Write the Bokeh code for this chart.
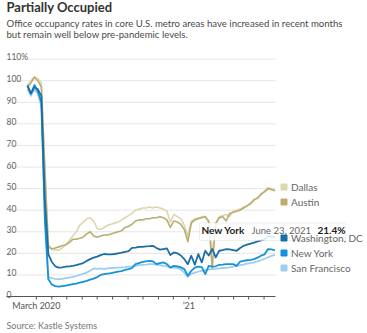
import pandas as pd
from bokeh.plotting import figure
from bokeh.models import (Range1d, Legend, LegendItem, Label,
                          BoxAnnotation, ColumnDataSource)
from bokeh.core.properties import value
from bokeh.embed import file_html
from bokeh.resources import INLINE

# ---------------- data (weekly, Wednesdays) ----------------
week_start = "2020-02-12"
n_weeks = 72

dallas = [98, 100, 102, 101, 99, 60, 24, 22, 21.5, 21.5,
          22.5, 24, 26, 28, 30, 33, 34.5, 36, 36.5, 35,
          31.5, 31, 32, 33, 33.5, 34, 34.5, 35.5, 36.5, 37.5,
          38.5, 40, 40.5, 41, 41, 41.5, 41, 41.5, 41, 40.5,
          39.5, 34.5, 38, 37, 36, 33, 28, 35, 36, 36.5,
          37, 37, 34, 21, 33, 37, 37.5, 38, 37, 39.5,
          40, 40.5, 41.5, 42, 43.5, 44.5, 46, 47, 49, 50.5,
          50, 49.5]
austin = [97, 99, 101.5, 100, 97, 58, 23, 22, 22.5, 23,
          23.5, 24, 25, 26.5, 26.5, 27, 27.5, 29, 30, 28,
          27.5, 28, 28.5, 28.5, 29, 29.5, 30, 30.5, 32, 32.5,
          33.5, 35, 35.5, 35.5, 36, 36, 36.5, 36.5, 37, 36.5,
          35.5, 32, 35, 34.5, 33.5, 31, 25.5, 34, 35.5, 36,
          36.5, 37, 35, 13, 34, 36.5, 37, 35, 38.5, 39,
          39.5, 40, 41, 42, 43, 45, 45.5, 47.5, 48.5, 50,
          49.5, 49]
washington = [97.5, 94, 97, 96, 93, 45, 19.5, 16, 14, 13.4,
              13.5, 13.8, 14, 14.2, 14.5, 15, 15.5, 16.5, 17.3, 18,
              18.5, 19.2, 19.7, 19.5, 19.5, 19.7, 20, 20.3, 20.7, 21,
              22.5, 22.7, 23, 23, 23.2, 23.3, 23.5, 22.5, 21.7, 22,
              22.3, 19.2, 20.4, 20, 19, 17.3, 15, 18.9, 14.7, 19.6,
              15.8, 21.2, 19, 22, 18.1, 21.2, 21.5, 22, 21.8, 21.5,
              21.2, 22.5, 23.5, 24, 24.5, 25, 25.5, 26, 26.5, 28,
              27.8, 27.5]
new_york = [98, 94, 98, 95, 90, 35, 8, 5.5, 4.8, 4.6,
            4.8, 5, 5.4, 5.7, 6, 6.4, 6.8, 7.2, 7.8, 8.3,
            9, 10, 10.4, 10.6, 10.8, 11.2, 11.5, 11.8, 12.3, 12.7,
            13.2, 15, 15.5, 16, 16.3, 16.5, 16.3, 15, 15.5, 15.8,
            15, 13.4, 14.2, 14, 13.5, 12.7, 9.6, 11.9, 13.4, 13.8,
            13.6, 10.4, 14.2, 13.8, 14, 14.7, 14.8, 15, 15, 15,
            14.2, 16.2, 16.5, 16.8, 17, 17.3, 18, 18.9, 19.5, 22,
            21.8, 21.4]
san_francisco = [96, 93, 96, 94, 88, 40, 9, 8.5, 8.2, 8,
                 8.2, 8.5, 8.8, 9.1, 9.5, 10, 10.5, 11.1, 12, 13,
                 12.8, 13, 12.7, 13, 13.2, 13.3, 13.4, 13.5, 13.6, 13.8,
                 13.9, 14.2, 14.5, 14.7, 14.8, 15, 15, 14.8, 14.5, 14.2,
                 14, 13.4, 13.4, 13.2, 12.5, 11, 9.1, 10.5, 11.1, 11.5,
                 11.9, 12.2, 12.5, 12.7, 12.8, 13, 13.2, 13.3, 13.5, 13.8,
                 14.2, 14.5, 14.8, 15.2, 15.5, 15.8, 16.3, 16.8, 17.5, 18.1,
                 18.8, 19.3]

series_names = ["Dallas", "Austin", "Washington, DC", "New York", "San Francisco"]
series_colors = ["#dcd6b3", "#b9ae70", "#1b6ea6", "#1592d8", "#9fcdf0"]

y_ticks = [0, 10, 20, 30, 40, 50, 60, 70, 80, 90, 100, 110]
y_tick_labels = ["0", "10", "20", "30", "40", "50", "60", "70", "80", "90", "100", "110%"]
x_tick_labels = {"2020-03-01": "March 2020", "2021-01-01": "\u201921"}

tip_city, tip_date, tip_value = "New York", "June 23, 2021", "21.4%"

title = "Partially Occupied"
subtitle_1 = "Office occupancy rates in core U.S. metro areas have increased in recent months"
subtitle_2 = "but remain well below pre-pandemic levels."
source = "Source: Kastle Systems"

# ---------------- layout ----------------
W, H = 367, 333
PLOT_L, PLOT_R = 6, 275          # pixel extent of the data area
PLOT_T, PLOT_B = 58, 296         # pixel top (110.3) and bottom (0)
Y_TOP = 110.3

EPOCH = pd.Timestamp("1970-01-01")


def ms(d):
    return (pd.Timestamp(d) - EPOCH) / pd.Timedelta(milliseconds=1)


x_start, x_end = ms("2020-01-01"), ms("2021-06-24")
px_per_ms = (PLOT_R - PLOT_L) / (x_end - x_start)
px_per_y = (PLOT_B - PLOT_T) / Y_TOP
xr = Range1d(x_start - PLOT_L / px_per_ms, x_end + (W - PLOT_R) / px_per_ms)
yr = Range1d(-(H - PLOT_B) / px_per_y, PLOT_B / px_per_y)

weeks = pd.date_range(week_start, periods=n_weeks, freq="7D")
wx = [ms(d) for d in weeks]

FONT = "Lato"

p = figure(width=W, height=H, x_range=xr, y_range=yr,
           x_axis_location=None, y_axis_location=None,
           toolbar_location=None, output_backend="svg",
           min_border=0)
p.outline_line_color = None
p.grid.visible = False
p.background_fill_color = "white"
p.border_fill_color = "white"

# grid lines (10 .. 110)
gy = y_ticks[1:]
p.segment(x0=[x_start] * len(gy), x1=[x_end] * len(gy), y0=gy, y1=gy,
          line_color="#e6e6e6", line_width=1)

# y labels above the grid lines
ysrc = ColumnDataSource(dict(x=[x_start] * len(y_ticks), y=y_ticks, t=y_tick_labels))
p.text(x="x", y="y", text="t", source=ysrc, text_align="left",
       text_baseline="alphabetic", y_offset=-2,
       text_font=value(FONT), text_font_size="8.5px", text_color="#666666")

# lines
data = [dallas, austin, washington, new_york, san_francisco]
for i in [0, 1, 4, 3, 2]:
    p.line(wx, data[i], line_color=series_colors[i],
           line_width=1.6 if i < 2 else 1.8, line_join="round")

# x axis: baseline, monthly ticks, labels
p.segment(x0=[x_start], x1=[x_end], y0=[0], y1=[0], line_color="#555555", line_width=1)
xt = pd.date_range("2020-03-01", "2021-06-01", freq="MS")
xt_ms = [ms(d) for d in xt]
tick_len = 3 / px_per_y
p.segment(x0=xt_ms, x1=xt_ms, y0=[0] * len(xt_ms), y1=[-tick_len] * len(xt_ms),
          line_color="#555555", line_width=1)
lab_x = [ms(k) for k in x_tick_labels]
lab_t = list(x_tick_labels.values())
p.text(x=lab_x, y=[0] * len(lab_x), text=lab_t, text_align="center",
       text_baseline="top", y_offset=3,
       text_font=value(FONT), text_font_size="9px", text_color="#555555")

# legend swatches (square markers)
sw = []
for i in range(5):
    sw.append(p.scatter(x=[float("nan")], y=[float("nan")], marker="square",
                        fill_color=series_colors[i], line_color=series_colors[i]))


def make_legend(idx, loc):
    lg = Legend(items=[LegendItem(label=series_names[i], renderers=[sw[i]]) for i in idx],
                location=loc, orientation="vertical",
                padding=0, spacing=0, margin=0,
                glyph_width=15, glyph_height=15, label_height=15,
                label_standoff=0,
                label_text_font=FONT, label_text_font_size="10px",
                label_text_color="#666666",
                border_line_color=None, background_fill_alpha=0)
    p.add_layout(lg, "center")


make_legend([0, 1], (276, H - 209))
make_legend([2, 3, 4], (276, H - 275))

# tooltip box (drawn above the legend)
p.add_layout(BoxAnnotation(left=199, right=345, top=H - 222.5, bottom=H - 240,
                           left_units="screen", right_units="screen",
                           top_units="screen", bottom_units="screen",
                           fill_color="white", fill_alpha=0.85,
                           line_color="#c8c8c8", line_width=1, level="overlay"))
for tx, txt, bold, col, fs in [(201, tip_city, True, "#222222", "10px"),
                               (251, tip_date, False, "#666666", "9.5px"),
                               (317, tip_value, True, "#222222", "10px")]:
    p.add_layout(Label(x=tx, y=H - 235, x_units="screen", y_units="screen", text=txt,
                       text_font=FONT, text_font_size=fs,
                       text_font_style="bold" if bold else "normal",
                       text_color=col, level="overlay"))

# headings and source
p.add_layout(Label(x=6, y=H - 14.5, x_units="screen", y_units="screen", text=title,
                   text_font=FONT, text_font_size="13px", text_font_style="bold",
                   text_color="#333333"))
p.add_layout(Label(x=6, y=H - 28.5, x_units="screen", y_units="screen", text=subtitle_1,
                   text_font=FONT, text_font_size="9.6px", text_color="#4a4a4a"))
p.add_layout(Label(x=6, y=H - 39.5, x_units="screen", y_units="screen", text=subtitle_2,
                   text_font=FONT, text_font_size="9.6px", text_color="#4a4a4a"))
p.add_layout(Label(x=6, y=H - 330, x_units="screen", y_units="screen", text=source,
                   text_font=FONT, text_font_size="9px", text_color="#777777"))

open("out.html", "w").write(file_html(p, INLINE))
